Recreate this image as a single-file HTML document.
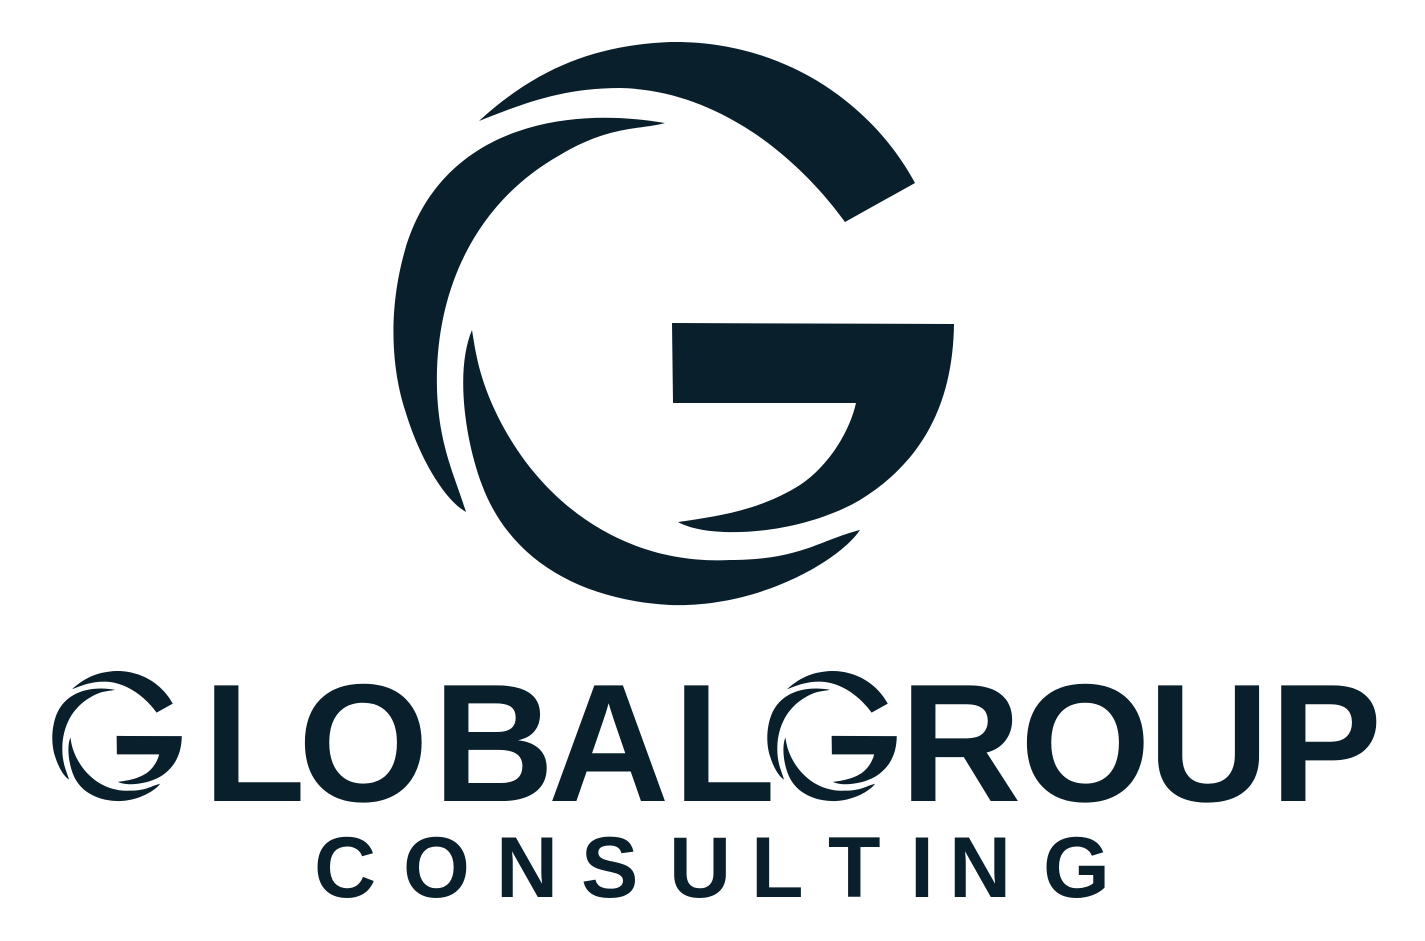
<!DOCTYPE html>
<html><head><meta charset="utf-8"><style>
html,body{margin:0;padding:0;background:#fff;}
svg{display:block;}
text{font-family:"Liberation Sans",sans-serif;font-weight:bold;fill:#0a1f2c;}
</style></head><body>
<svg width="1425" height="941" viewBox="0 0 1425 941">
<defs>
<g id="gmark" fill="#0a1f2c">
<path d="M479,121 C540,65 600,45 670,42 C780,40 870,100 915,183 L845,222 C800,160 720,90 620,88 C560,88 520,105 479,121 Z"/>
<path d="M665,123 C560,105 440,130 405,250 C385,320 395,380 405,410 C420,460 445,500 466,512 C455,475 435,440 437,370 C440,280 480,200 560,155 C610,125 640,130 665,123 Z"/>
<path d="M472,330 C455,370 465,440 482,485 C510,560 580,600 670,605 C760,608 840,560 860,530 C820,540 800,560 730,560 C630,565 550,510 505,430 C480,385 476,355 472,330 Z"/>
<path d="M672,323 L954,324 C953,400 925,460 860,500 C800,535 710,540 678,522 C720,516 760,510 800,485 C830,465 850,430 856,403 L673,403 Z"/>
</g>
</defs>
<use href="#gmark"/>
<use href="#gmark" transform="translate(-38.6,661.3) scale(0.231)"/>
<use href="#gmark" transform="translate(676.4,661.3) scale(0.231)"/>
<g font-size="168">
<text x="203" y="801">L</text><text x="298" y="801">O</text><text x="433" y="801">B</text><text x="548" y="801">A</text><text x="673" y="801">L</text>
</g>
<g font-size="168">
<text x="900" y="801">R</text><text x="1020" y="801">O</text><text x="1148" y="801">U</text><text x="1270" y="801">P</text>
</g>
<g font-size="86">
<text x="314" y="897">C</text><text x="403" y="897">O</text><text x="496" y="897">N</text><text x="581" y="897">S</text><text x="669" y="897">U</text><text x="751" y="897">L</text><text x="828" y="897">T</text><text x="910" y="897">I</text><text x="949" y="897">N</text><text x="1043" y="897">G</text>
</g>
</svg>
</body></html>
